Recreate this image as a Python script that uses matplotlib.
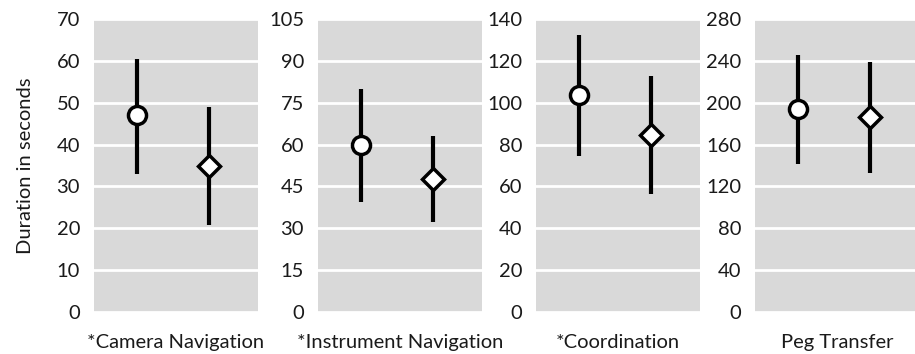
import matplotlib
matplotlib.use("Agg")
import matplotlib.pyplot as plt

tasks = ["*Camera Navigation", "*Instrument Navigation", "*Coordination", "Peg Transfer"]
ymax = [70, 105, 140, 280]
ystep = [10, 15, 20, 40]

circle_mean = [47, 60, 103.5, 194]
circle_low = [33, 39.5, 74.5, 141.5]
circle_high = [60.5, 80, 132.5, 245.5]

diamond_mean = [35, 47.5, 84.5, 186]
diamond_low = [20.8, 32.3, 56.5, 132.5]
diamond_high = [49, 63, 113, 239]

plt.rcParams['font.family'] = ['Lato', 'DejaVu Sans']

fig = plt.figure(figsize=(9.15, 3.54), dpi=100)
W, H = 915, 354
lefts = [94, 318, 536, 755]
width = 164
bottom_px, top_px = 312, 19

for i in range(4):
    ax = fig.add_axes([lefts[i] / W, 1 - bottom_px / H, width / W, (bottom_px - top_px) / H])
    ax.set_facecolor('#d9d9d9')
    for s in ax.spines.values():
        s.set_visible(False)
    ax.set_ylim(0, ymax[i])
    ticks = list(range(0, ymax[i] + 1, ystep[i]))
    ax.set_yticks(ticks)
    ax.yaxis.grid(True, color='white', linewidth=2)
    ax.set_axisbelow(True)
    ax.tick_params(axis='y', length=0, pad=10, labelsize=14.5, labelcolor='#1a1a1a')
    ax.set_xticks([])
    ax.set_xlim(0.41, 2.68)
    ax.errorbar([1], [circle_mean[i]],
                yerr=[[circle_mean[i] - circle_low[i]], [circle_high[i] - circle_mean[i]]],
                fmt='o', color='black', ecolor='black', elinewidth=3, capsize=0,
                markersize=13, markerfacecolor='white', markeredgecolor='black',
                markeredgewidth=2.5, zorder=3)
    ax.errorbar([2], [diamond_mean[i]],
                yerr=[[diamond_mean[i] - diamond_low[i]], [diamond_high[i] - diamond_mean[i]]],
                fmt='D', color='black', ecolor='black', elinewidth=3, capsize=0,
                markersize=11, markerfacecolor='white', markeredgecolor='black',
                markeredgewidth=2.5, zorder=3)
    ax.set_xlabel(tasks[i], fontsize=14.5, color='#1a1a1a', labelpad=16)
    if i == 0:
        ax.set_ylabel("Duration in seconds", fontsize=14.5, color='#1a1a1a', labelpad=16)

fig.savefig("out.png", dpi=100, facecolor='white')
